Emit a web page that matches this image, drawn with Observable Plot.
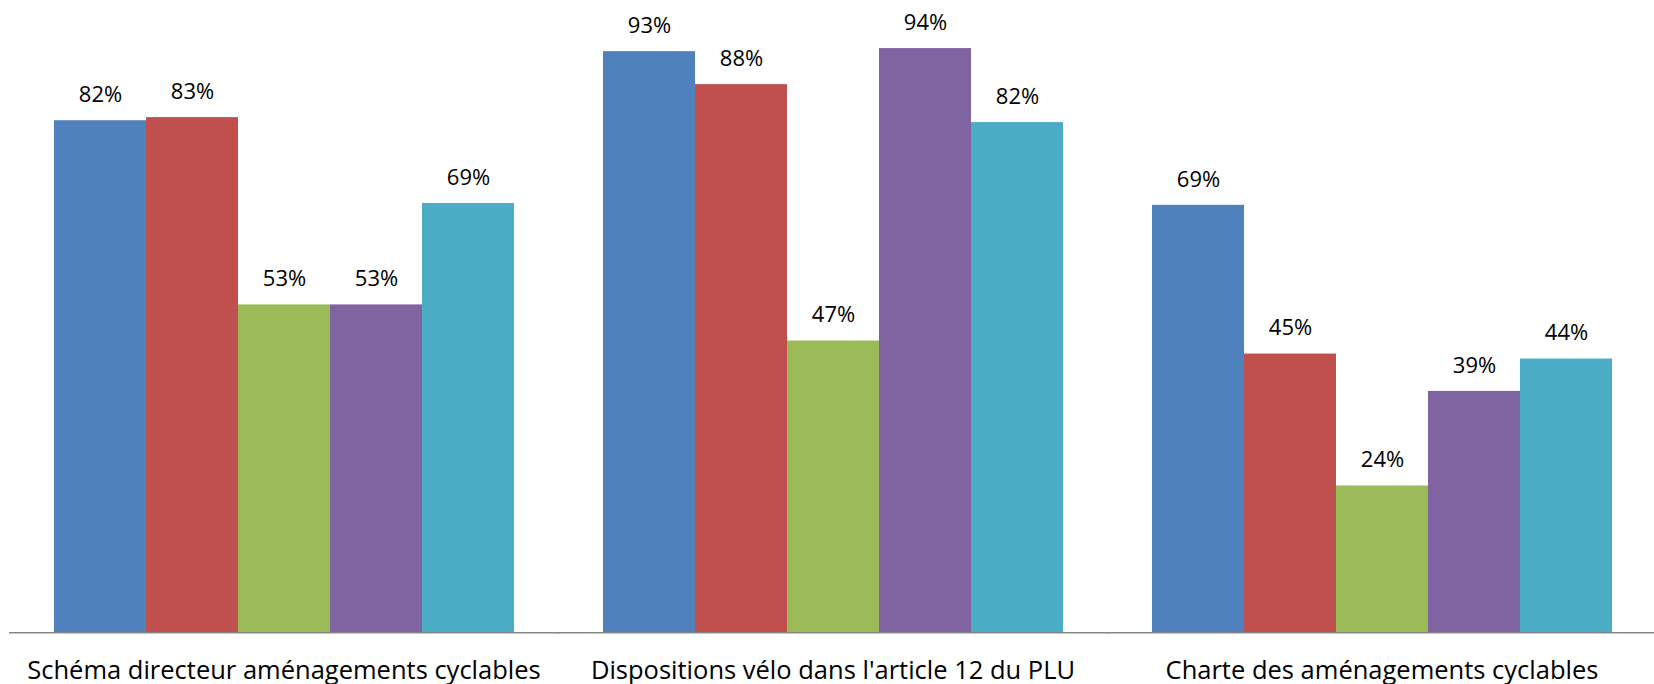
<!DOCTYPE html>
<html>
<head>
<meta charset="utf-8">
<script src="https://cdn.jsdelivr.net/npm/d3@7"></script>
<script src="https://cdn.jsdelivr.net/npm/@observablehq/plot@0.6"></script>
<style>
  html, body { margin: 0; padding: 0; background: #fff; overflow: hidden; }
</style>
</head>
<body>
<div id="chart"></div>
<script>
const categories = [
  "Schéma directeur aménagements cyclables",
  "Dispositions vélo dans l'article 12 du PLU",
  "Charte des aménagements cyclables"
];
const seriesNames = ["Série 1", "Série 2", "Série 3", "Série 4", "Série 5"];
const seriesColors = ["#4F81BD", "#C0504D", "#9BBB59", "#8064A2", "#4BACC6"];
const values = [
  [0.823, 0.828, 0.527, 0.527, 0.690],
  [0.934, 0.881, 0.469, 0.939, 0.820],
  [0.687, 0.448, 0.236, 0.388, 0.440]
];

const data = [];
categories.forEach((c, i) => {
  seriesNames.forEach((s, j) => {
    data.push({category: c, series: s, value: values[i][j]});
  });
});

const font = "'Open Sans', sans-serif";

const chart = Plot.plot({
  width: 1654,
  height: 684,
  marginLeft: 52,
  marginRight: 41,
  marginTop: 10.1,
  marginBottom: 51.7,
  style: {fontFamily: font, background: "#fff", color: "#000"},
  fx: {domain: categories, paddingInner: 0.161, paddingOuter: 0, label: null},
  x: {domain: seriesNames, padding: 0, axis: null},
  y: {domain: [0, 1], axis: null},
  color: {domain: seriesNames, range: seriesColors},
  marks: [
    Plot.barY(data, {fx: "category", x: "series", y: "value", fill: "series"}),
    Plot.ruleY([0], {stroke: "#868686", strokeWidth: 1.6, insetLeft: -44, insetRight: -45}),
    Plot.text(data, {
      fx: "category", x: "series", y: "value",
      text: d => Math.round(d.value * 100) + "%",
      lineAnchor: "bottom", dy: -18.6, fontSize: 22, fill: "#000"
    }),
    Plot.axisFx({anchor: "bottom", tickSize: 0, tickPadding: 28.5, fontSize: 25.5, label: null, fill: "#000"})
  ]
});

document.getElementById("chart").appendChild(chart);
</script>
</body>
</html>
